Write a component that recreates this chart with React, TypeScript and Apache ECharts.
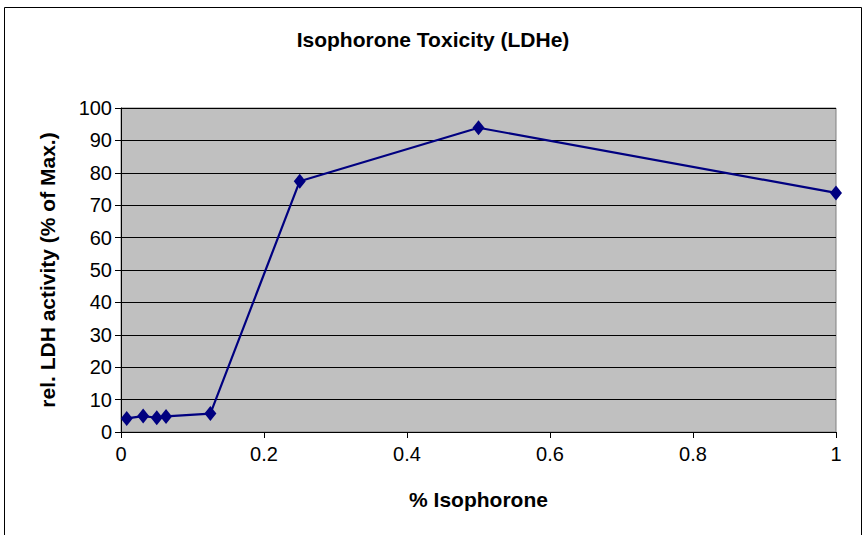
import React, { useEffect, useRef } from "react";
import * as echarts from "echarts";

const concentrations = [0.008, 0.031, 0.05, 0.063, 0.125, 0.25, 0.5, 1.0];
const activity = [4.2, 4.9, 4.4, 4.8, 5.7, 77.4, 93.9, 73.8];
const xTicks = [0, 0.2, 0.4, 0.6, 0.8, 1];

export default function App() {
  const ref = useRef<HTMLDivElement>(null);
  useEffect(() => {
    if (!ref.current) return;
    const chart = echarts.init(ref.current, undefined, { renderer: "svg" });
    const font = "'Liberation Sans', Arial, sans-serif";
    chart.setOption({
      animation: false,
      backgroundColor: "#ffffff",
      textStyle: { fontFamily: font },
      title: {
        text: "Isophorone Toxicity (LDHe)",
        left: "center",
        top: 24,
        textStyle: { fontFamily: font, fontSize: 21, fontWeight: "bold", color: "#000" },
      },
      graphic: [
        {
          type: "rect",
          shape: { x: 4.5, y: 7.5, width: 857, height: 540 },
          style: { fill: "none", stroke: "#000", lineWidth: 1 },
          silent: true,
        },
      ],
      grid: {
        left: 121,
        right: 30,
        top: 108,
        bottom: 103,
        show: true,
        backgroundColor: "#C0C0C0",
        borderColor: "#808080",
        borderWidth: 1,
      },
      xAxis: {
        type: "value",
        min: 0,
        max: 1,
        interval: 0.2,
        name: "% Isophorone",
        nameLocation: "middle",
        nameGap: 57,
        nameTextStyle: { fontFamily: font, fontSize: 21, fontWeight: "bold", color: "#000" },
        axisLine: { show: true, onZero: false, lineStyle: { color: "#000", width: 1 } },
        axisTick: { show: true, inside: false, length: 6, lineStyle: { color: "#000" } },
        axisLabel: {
          fontFamily: font,
          fontSize: 20,
          color: "#000",
          margin: 12,
          formatter: (v: number) => (xTicks.some((t) => Math.abs(t - v) < 1e-9) ? String(+v.toFixed(1)) : ""),
        },
        splitLine: { show: false },
      },
      yAxis: {
        type: "value",
        min: 0,
        max: 100,
        interval: 10,
        name: "rel. LDH activity (% of Max.)",
        nameLocation: "middle",
        nameGap: 63,
        nameTextStyle: { fontFamily: font, fontSize: 21, fontWeight: "bold", color: "#000" },
        axisLine: { show: true, lineStyle: { color: "#000", width: 1 } },
        axisTick: { show: true, inside: false, length: 6, lineStyle: { color: "#000" } },
        axisLabel: { fontFamily: font, fontSize: 20, color: "#000", margin: 9 },
        splitLine: { show: true, lineStyle: { color: "#000", width: 1 } },
      },
      series: [
        {
          type: "line",
          data: concentrations.map((c, i) => [c, activity[i]]),
          symbol: "diamond",
          symbolSize: [12, 15],
          lineStyle: { color: "#000080", width: 2.2 },
          itemStyle: { color: "#000080" },
          clip: false,
        },
      ],
    });
    return () => chart.dispose();
  }, []);
  return (
    <div
      ref={ref}
      style={{ position: "fixed", left: 0, top: 0, width: 866, height: 535 }}
    />
  );
}
